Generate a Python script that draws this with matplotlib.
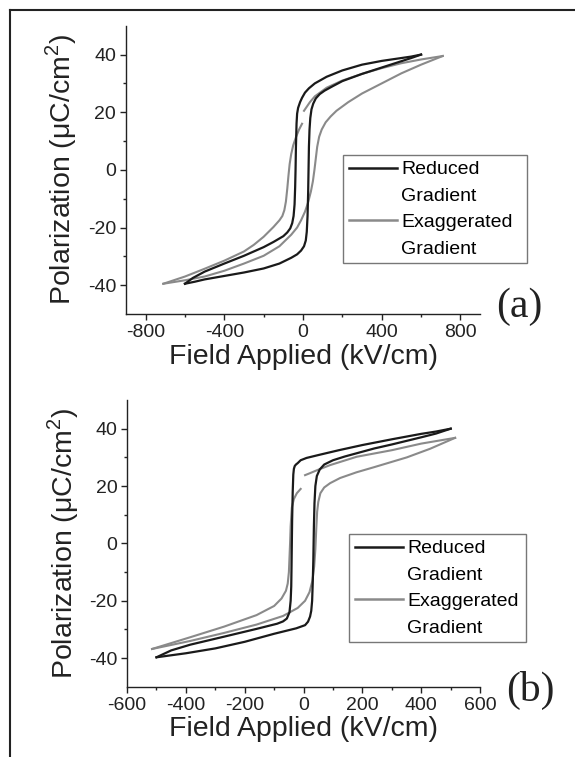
import numpy as np
import matplotlib
matplotlib.use('Agg')
import matplotlib.pyplot as plt
from matplotlib.lines import Line2D

plt.rcParams['font.family'] = ['Liberation Sans', 'DejaVu Sans']
plt.rcParams['mathtext.fontset'] = 'custom'
plt.rcParams['mathtext.rm'] = 'Liberation Sans'
plt.rcParams['axes.unicode_minus'] = False

nan = np.nan

# ---- panel (a) ----
a_red_up_E = [600, 550, 500, 400, 300, 200, 120, 60, 30, 10, -5, -15, -25, -30, -33, -36, -38, -40, -43, -48, -55, -65, -80, -100, -150, -200, -300, -400, -500, -560, -600]
a_red_up_P = [40, 39.3, 38.8, 37.8, 36.5, 34.5, 32.3, 30, 28.3, 26.8, 25, 23.5, 21.5, 19.5, 16, 8, 0, -6, -12, -16, -18.5, -20.3, -21.7, -23, -25, -26.8, -29.8, -32.5, -35.3, -37.5, -39.5]
a_red_lo_E = [-600, -550, -500, -400, -300, -200, -120, -60, -30, -10, 5, 14, 19, 23, 26, 28, 30, 33, 37, 43, 52, 65, 85, 110, 150, 200, 300, 400, 500, 550, 600]
a_red_lo_P = [-39.5, -38.8, -38, -36.8, -35.6, -34.2, -32.5, -30.5, -29.3, -28, -26.5, -24.5, -21.5, -16, -8, 0, 8, 14, 18, 21, 23, 24.8, 26.3, 27.5, 29, 30.8, 33.3, 35.5, 37.7, 38.8, 40]

a_exa_up_E = [710, 600, 500, 400, 300, 200, 120, 60, 35, 20, 5, nan, -5, -20, -35, -50, -60, -68, -74, -80, -87, -95, -105, -120, -150, -200, -250, -300, -400, -500, -600, -710]
a_exa_up_P = [39.5, 38.3, 37, 35.3, 33.3, 31, 28.5, 25.5, 23.5, 22, 20.5, nan, 16, 14, 11.5, 8.5, 5.5, 2, -2, -6.5, -11, -14, -16, -17.5, -19.8, -23.2, -26, -28.3, -31.5, -34.3, -37, -39.5]
a_exa_lo_E = [-710, -600, -500, -400, -300, -200, -120, -60, -30, -10, 10, 25, 40, 50, 58, 65, 72, 82, 95, 115, 140, 170, 230, 300, 400, 500, 600, 710]
a_exa_lo_P = [-39.5, -38.3, -37, -35, -32.5, -29.8, -26.5, -22.5, -20, -17.5, -14.5, -11.5, -7.5, -4, 0, 4, 8, 11.5, 14, 16.5, 18.5, 20.5, 23.5, 26.5, 30, 33.5, 36.5, 39.5]

# ---- panel (b) ----
b_red_up_E = [500, 450, 400, 300, 200, 120, 50, 10, -10, -20, -26, -30, -33, -35, -37, -39, -40, -41, -42, -44, -48, -57, -70, -90, -160, -270, -385, -450, -500]
b_red_up_P = [40, 39, 38.2, 36.3, 34.3, 32.5, 30.8, 29.8, 29, 28, 27.5, 27, 26, 24, 18, 8, 0, -8, -15, -20, -24, -26.2, -27.2, -28, -29.8, -32.5, -35.3, -37.3, -39.7]
b_red_lo_E = [-500, -450, -400, -300, -200, -100, -25, 5, 15, 22, 26, 29, 31, 33, 34, 35, 37, 40, 45, 55, 70, 100, 140, 240, 300, 400, 450, 500]
b_red_lo_P = [-39.7, -39, -38.3, -36.6, -34.3, -31.5, -29.6, -28.5, -27.3, -25.5, -23.5, -20, -14, -6, 0, 6, 14, 20, 23.5, 25.8, 27.5, 29, 30.3, 33.1, 34.5, 37, 38.3, 40]

b_exa_up_E = [515, 400, 300, 180, 90, 45, 22, 5, nan, -10, -23, -33, -40, -44, -46, -48, -50, -54, -60, -75, -100, -160, -270, -385, -515]
b_exa_up_P = [36.8, 34.8, 32.5, 30.2, 27.3, 25.5, 24.5, 23.8, nan, 19, 17.5, 15.5, 12.5, 6, 0, -5, -10, -14, -16.5, -19.2, -21.8, -25, -29, -32.7, -36.8]
b_exa_lo_E = [-515, -385, -270, -160, -70, -20, 5, 20, 30, 36, 40, 43, 46, 50, 57, 70, 90, 124, 180, 237, 351, 430, 515]
b_exa_lo_P = [-36.8, -34, -31.2, -28.3, -25.3, -22.5, -20, -17, -13, -8, -2, 5, 11, 14.5, 17.5, 19.5, 21, 22.8, 24.8, 26.5, 30, 33, 36.8]

labels = ['Reduced', 'Gradient', 'Exaggerated', 'Gradient']
c_red = '#1a1a1a'
c_exa = '#8a8a8a'

fig = plt.figure(figsize=(5.75, 7.57), dpi=100)

# frame lines around the figure (left + top)
fig.add_artist(Line2D([10/575, 10/575], [0, 1 - 10/757], color='#222222', lw=1.5))
fig.add_artist(Line2D([10/575, 1], [1 - 10/757, 1 - 10/757], color='#222222', lw=1.5))

ax1 = fig.add_axes([0.219, 0.5852, 0.616, 0.3808])
ax2 = fig.add_axes([0.221, 0.0927, 0.614, 0.3789])


def draw(ax, red_up, red_lo, exa_up, exa_lo, xlim, xmaj, xmin_):
    ax.plot(*exa_up, color=c_exa, lw=1.5)
    ax.plot(*exa_lo, color=c_exa, lw=1.5)
    ax.plot(*red_up, color=c_red, lw=1.6)
    ax.plot(*red_lo, color=c_red, lw=1.6)
    ax.set_xlim(xlim)
    ax.set_ylim(-50, 50)
    ax.set_xticks(xmaj)
    ax.set_xticks(xmin_, minor=True)
    ax.set_yticks([-40, -20, 0, 20, 40])
    ax.set_yticks([-30, -10, 10, 30], minor=True)
    for s in ['top', 'right']:
        ax.spines[s].set_visible(False)
    for s in ['left', 'bottom']:
        ax.spines[s].set_color('#222222')
        ax.spines[s].set_linewidth(1.0)
    ax.tick_params(which='major', direction='out', length=4, width=1, labelsize=14, pad=3, colors='#222222')
    ax.tick_params(which='minor', direction='out', length=2.5, width=1, colors='#222222')
    ax.set_xlabel('Field Applied (kV/cm)', fontsize=20.5, labelpad=2, color='#222222')
    ax.set_ylabel('Polarization (μC/cm$^{2}$)', fontsize=20.5, labelpad=6, color='#222222')


draw(ax1, (a_red_up_E, a_red_up_P), (a_red_lo_E, a_red_lo_P),
     (a_exa_up_E, a_exa_up_P), (a_exa_lo_E, a_exa_lo_P),
     (-900, 900), [-800, -400, 0, 400, 800], [-600, -200, 200, 600])
draw(ax2, (b_red_up_E, b_red_up_P), (b_red_lo_E, b_red_lo_P),
     (b_exa_up_E, b_exa_up_P), (b_exa_lo_E, b_exa_lo_P),
     (-600, 600), [-600, -400, -200, 0, 200, 400, 600], [-500, -300, -100, 100, 300, 500])

handles = [Line2D([], [], color=c_red, lw=1.8), Line2D([], [], color='none'),
           Line2D([], [], color=c_exa, lw=1.8), Line2D([], [], color='none')]

for ax, box in [(ax1, (343, 155, 527, 261)), (ax2, (349, 534, 526, 640))]:
    x0, y0, x1, y1 = box
    leg = ax.legend(handles, labels, loc='upper left', mode='expand',
                    bbox_to_anchor=(x0/575, 1 - y0/757, (x1 - x0)/575, 0),
                    bbox_transform=fig.transFigure, fontsize=14, frameon=True,
                    fancybox=False, handlelength=2.5, handletextpad=0.2,
                    borderpad=0.3, labelspacing=0.45, borderaxespad=0)
    leg.get_frame().set_edgecolor('#777777')
    leg.get_frame().set_linewidth(1.0)
    leg.get_frame().set_alpha(1)

fig.text(519/575, 1 - 307/757, '(a)', fontsize=30, family='Liberation Serif', ha='center', va='center', color='#222222')
fig.text(530/575, 1 - 690/757, '(b)', fontsize=30, family='Liberation Serif', ha='center', va='center', color='#222222')

fig.savefig('out.png', dpi=100)
